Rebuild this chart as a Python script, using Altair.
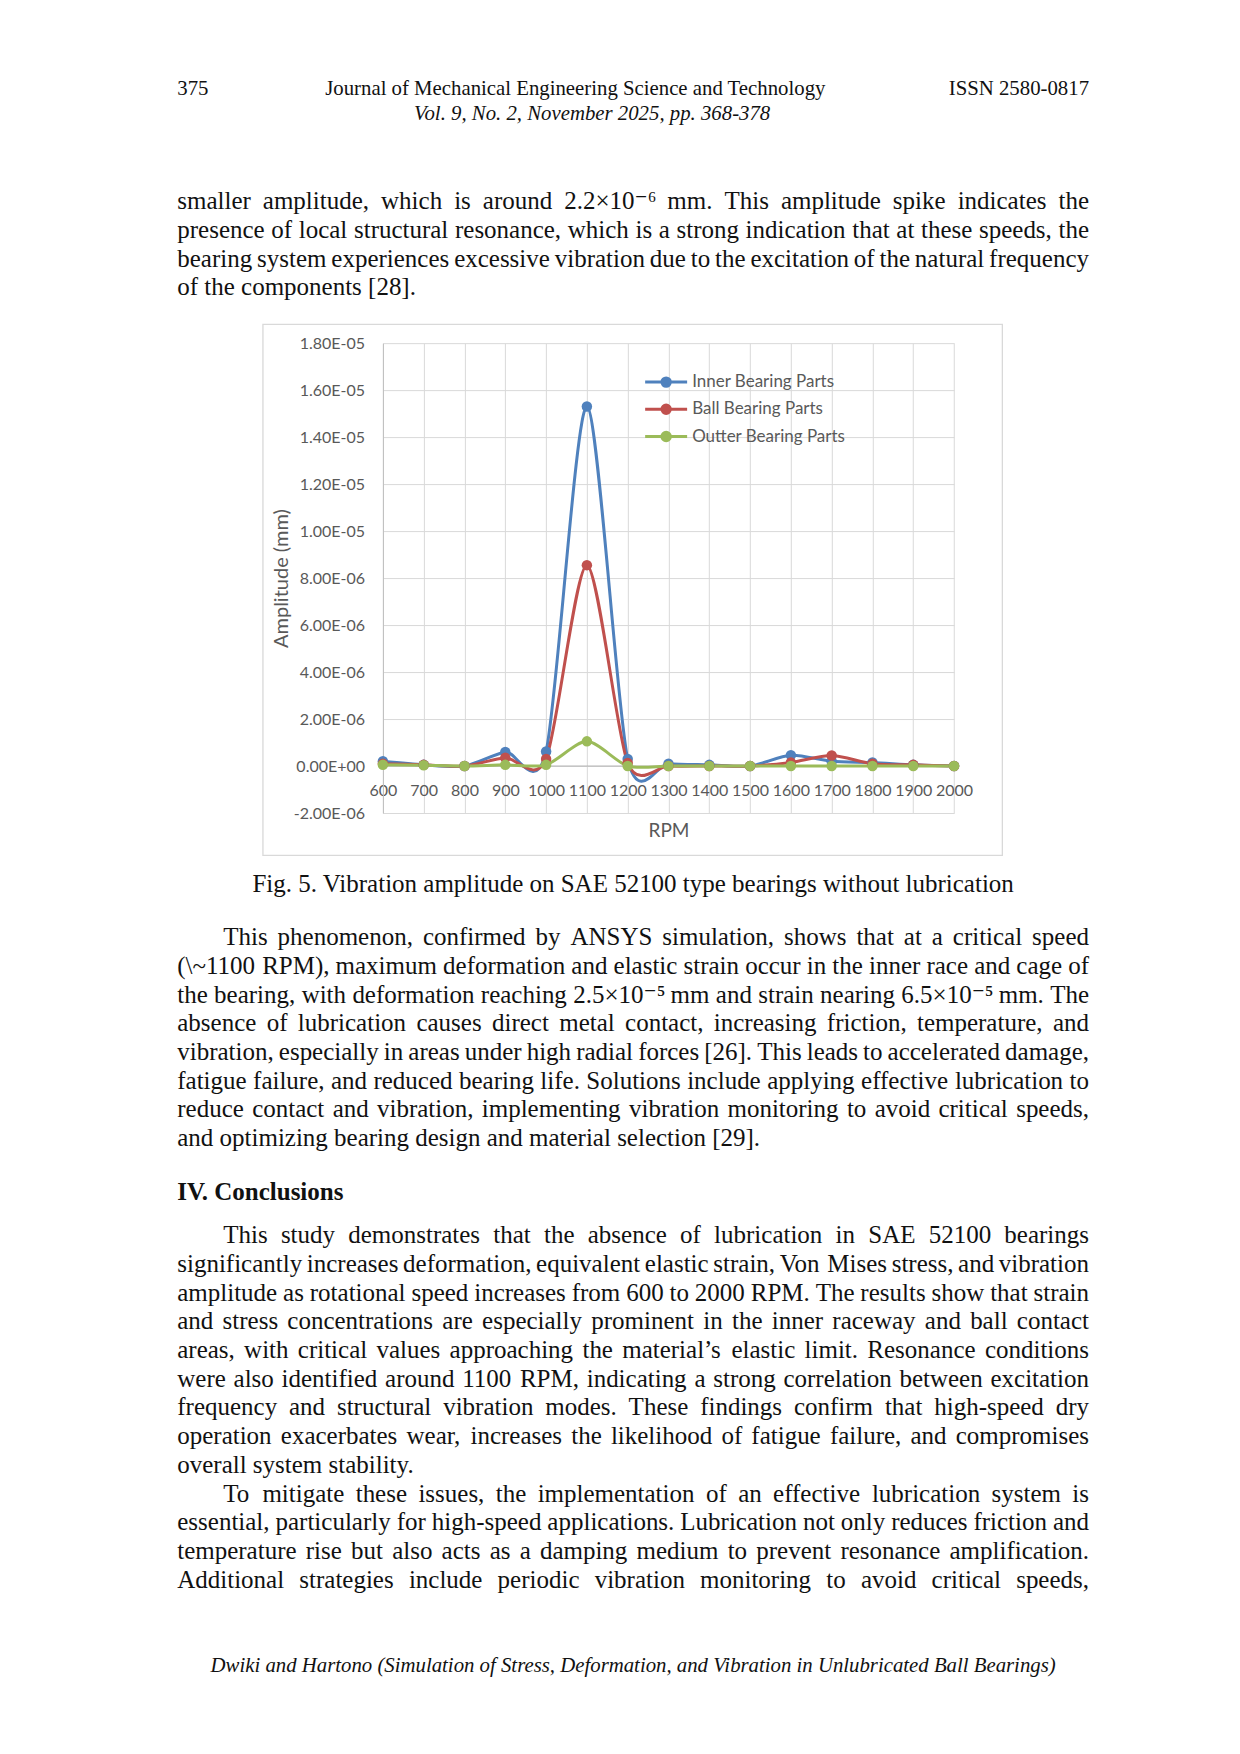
import altair as alt
import pandas as pd

# ---------------- chart data ----------------
rpm = [600, 700, 800, 900, 1000, 1100, 1200, 1300, 1400, 1500, 1600, 1700, 1800, 1900, 2000]
inner = [0.20e-6, 0.05e-6, 0.0, 0.60e-6, 0.62e-6, 15.3e-6, 0.30e-6, 0.10e-6, 0.05e-6, 0.0,
         0.46e-6, 0.20e-6, 0.15e-6, 0.05e-6, 0.0]
ball = [0.10e-6, 0.05e-6, 0.0, 0.35e-6, 0.30e-6, 8.55e-6, 0.13e-6, 0.0, 0.0, 0.0,
        0.15e-6, 0.45e-6, 0.10e-6, 0.05e-6, 0.0]
outer = [0.05e-6, 0.03e-6, 0.0, 0.05e-6, 0.05e-6, 1.05e-6, 0.0, 0.0, 0.0, 0.0,
         0.0, 0.0, 0.0, 0.0, 0.0]
series_names = ["Inner Bearing Parts", "Ball Bearing Parts", "Outter Bearing Parts"]
series_colors = ["#4F81BD", "#C0504D", "#9BBB59"]
y_ticks = [-2e-06, 0.0, 2e-06, 4e-06, 6e-06, 8e-06, 1e-05, 1.2e-05, 1.4e-05, 1.6e-05, 1.8e-05]
y_tick_labels = ["-2.00E-06", "0.00E+00", "2.00E-06", "4.00E-06", "6.00E-06", "8.00E-06",
                 "1.00E-05", "1.20E-05", "1.40E-05", "1.60E-05", "1.80E-05"]
x_title = "RPM"
y_title = "Amplitude (mm)"

# ---------------- page text ----------------
header_left = "375"
header_center = "Journal of Mechanical Engineering Science and Technology"
header_right = "ISSN 2580-0817"
header_sub = "Vol. 9, No. 2, November 2025, pp. 368-378"
para1 = [
    "smaller amplitude, which is around 2.2\u00d710\u207b\u2076 mm. This amplitude spike indicates the",
    "presence of local structural resonance, which is a strong indication that at these speeds, the",
    "bearing system experiences excessive vibration due to the excitation of the natural frequency",
    "of the components [28].",
]
caption = "Fig. 5. Vibration amplitude on SAE 52100 type bearings without lubrication"
para2 = [
    "This phenomenon, confirmed by ANSYS simulation, shows that at a critical speed",
    "(\\~1100 RPM), maximum deformation and elastic strain occur in the inner race and cage of",
    "the bearing, with deformation reaching 2.5\u00d710\u207b\u2075 mm and strain nearing 6.5\u00d710\u207b\u2075 mm. The",
    "absence of lubrication causes direct metal contact, increasing friction, temperature, and",
    "vibration, especially in areas under high radial forces [26]. This leads to accelerated damage,",
    "fatigue failure, and reduced bearing life. Solutions include applying effective lubrication to",
    "reduce contact and vibration, implementing vibration monitoring to avoid critical speeds,",
    "and optimizing bearing design and material selection [29].",
]
heading = "IV. Conclusions"
para3 = [
    "This study demonstrates that the absence of lubrication in SAE 52100 bearings",
    "significantly increases deformation, equivalent elastic strain, Von Mises stress, and vibration",
    "amplitude as rotational speed increases from 600 to 2000 RPM. The results show that strain",
    "and stress concentrations are especially prominent in the inner raceway and ball contact",
    "areas, with critical values approaching the material\u2019s elastic limit. Resonance conditions",
    "were also identified around 1100 RPM, indicating a strong correlation between excitation",
    "frequency and structural vibration modes. These findings confirm that high-speed dry",
    "operation exacerbates wear, increases the likelihood of fatigue failure, and compromises",
    "overall system stability.",
]
para4 = [
    "To mitigate these issues, the implementation of an effective lubrication system is",
    "essential, particularly for high-speed applications. Lubrication not only reduces friction and",
    "temperature rise but also acts as a damping medium to prevent resonance amplification.",
    "Additional strategies include periodic vibration monitoring to avoid critical speeds,",
]
footer = "Dwiki and Hartono (Simulation of Stress, Deformation, and Vibration in Unlubricated Ball Bearings)"

# ---------------- layout (page pixel geometry) ----------------
PX, PY = 382.7, 342.7          # plot-area origin on the page
W, H = 571.3, 470.0            # plot-area size
SERIF = "'Liberation Serif', 'DejaVu Serif', serif"
SANS = "Lato, 'Open Sans', sans-serif"
GREY = "#595959"
INK = "#111111"
BODY_FS = 25.0

def rel_x(v):
    return v - PX

def rel_y(v):
    return v - PY

# Times-style advance widths (per 1000 em) used to justify body lines
_w = {" ": 250, "!": 333, "(": 333, ")": 333, ",": 250, "-": 333, ".": 250, "/": 278,
      ":": 278, ";": 278, "?": 444, "[": 333, "]": 333, "\\": 278, "~": 541,
      "\u00d7": 564, "\u2019": 333, "\u207b": 430, "\u2075": 400, "\u2076": 400}
for ch in "0123456789":
    _w[ch] = 500
for ch, v in zip("ABCDEFGHIJKLMNOPQRSTUVWXYZ",
                 [722, 667, 667, 722, 611, 556, 722, 722, 333, 389, 722, 611, 889,
                  722, 722, 556, 722, 667, 556, 611, 722, 722, 944, 722, 722, 611]):
    _w[ch] = v
for ch, v in zip("abcdefghijklmnopqrstuvwxyz",
                 [444, 500, 444, 500, 444, 333, 500, 500, 278, 278, 500, 278, 778,
                  500, 500, 500, 500, 333, 389, 278, 500, 500, 722, 500, 500, 444]):
    _w[ch] = v

def text_width(s, fs):
    return sum(_w.get(c, 500) for c in s) * fs / 1000.0

LEFT, INDENT, RIGHT = 177.0, 223.0, 1089.0
LH = 28.72

rows = []  # (style, text, x, y)

def add_line(text, x0, y, justify):
    if not justify:
        rows.append(("body", text, x0, y))
        return
    words = text.split(" ")
    widths = [text_width(wd, BODY_FS) for wd in words]
    gap = (RIGHT - x0 - sum(widths)) / (len(words) - 1)
    x = x0
    for wd, ww in zip(words, widths):
        rows.append(("body", wd, x, y))
        x += ww + gap

rows.append(("hdr_l", header_left, LEFT, 94.6))
rows.append(("hdr_l", header_center, 325.0, 94.6))
rows.append(("hdr_r", header_right, RIGHT, 94.6))
rows.append(("hdr_i", header_sub, 592.0, 120.0))
for i, t in enumerate(para1):
    add_line(t, LEFT, 208.7 + i * LH, i < len(para1) - 1)
rows.append(("cap", caption, 633.0, 892.0))
for i, t in enumerate(para2):
    add_line(t, INDENT if i == 0 else LEFT, 944.8 + i * LH, i < len(para2) - 1)
rows.append(("head", heading, LEFT, 1199.5))
for i, t in enumerate(para3):
    add_line(t, INDENT if i == 0 else LEFT, 1243.0 + i * LH, i < len(para3) - 1)
for j, t in enumerate(para4):
    add_line(t, INDENT if j == 0 else LEFT, 1243.0 + (len(para3) + j) * LH, True)
rows.append(("foot", footer, 633.0, 1672.0))

text_df = pd.DataFrame(
    [{"style": s, "line": t, "px": rel_x(x), "py": rel_y(y)} for s, t, x, y in rows]
)

# ---------------- chart data frame ----------------
records = []
for name, vals in zip(series_names, [inner, ball, outer]):
    for r, v in zip(rpm, vals):
        records.append({"rpm": r, "amp": v, "series": name})
df = pd.DataFrame(records)

label_expr = "[" + ",".join("'" + s + "'" for s in y_tick_labels) + "][round((datum.value + 2e-6) / 2e-6)]"

x_enc = alt.X(
    "rpm:Q",
    scale=alt.Scale(domain=[rpm[0], rpm[-1]], nice=False, zero=False),
    axis=alt.Axis(
        values=rpm, format="d", title=x_title,
        domain=False, ticks=False, tickSize=0,
        grid=True, gridColor="#d9d9d9", gridWidth=1,
        labelFont=SANS, labelFontSize=16, labelColor=GREY,
        labelPadding=-22.7, labelBaseline="middle", labelFlush=False, labelOverlap=False,
        titleFont=SANS, titleFontSize=19, titleColor=GREY, titleFontWeight="normal",
        titleY=17.3, titleBaseline="middle",
    ),
)
y_enc = alt.Y(
    "amp:Q",
    scale=alt.Scale(domain=[y_ticks[0], y_ticks[-1]], nice=False, zero=False),
    axis=alt.Axis(
        values=y_ticks, labelExpr=label_expr, title=y_title,
        domain=True, domainColor="#bfbfbf", domainWidth=1,
        ticks=False, tickSize=0,
        grid=True, gridColor="#d9d9d9", gridWidth=1,
        labelFont=SANS, labelFontSize=16, labelColor=GREY,
        labelPadding=18.4, labelBaseline="middle", labelFlush=False, labelOverlap=False,
        titleFont=SANS, titleFontSize=20, titleColor=GREY, titleFontWeight="normal",
        titleX=-101, titleY=H / 2, titleAngle=270, titleBaseline="middle", titleAlign="center",
    ),
)

legend_symbol = "M-2.5,0L2.5,0M-0.5,0A0.5,0.5,0,1,1,0.5,0A0.5,0.5,0,1,1,-0.5,0Z"
legend = alt.Legend(
    title=None, orient="none", legendX=273.3, legendY=29.0, padding=0,
    symbolType=legend_symbol, symbolSize=282, symbolStrokeWidth=3,
    labelFont=SANS, labelFontSize=17, labelColor=GREY, labelOffset=16,
    rowPadding=5.2,
)
color_scale = alt.Scale(domain=series_names, range=series_colors)

base = alt.Chart(df)
lines = base.mark_line(strokeWidth=3, interpolate="cardinal", tension=0.2).encode(
    x=x_enc, y=y_enc,
    color=alt.Color("series:N", scale=color_scale, sort=series_names, legend=legend),
    order=alt.Order("rpm:Q"),
)
points = base.mark_circle(size=110, opacity=1).encode(
    x="rpm:Q", y="amp:Q",
    color=alt.Color("series:N", scale=color_scale, legend=legend),
)
zero_rule = alt.Chart(pd.DataFrame({"amp": [0.0]})).mark_rule(color="#b3b3b3", strokeWidth=1).encode(
    y="amp:Q"
)

# page extent (invisible) and chart-area frame
page_rect = alt.Chart(pd.DataFrame({"k": [0]})).mark_rect(fill="white", opacity=0).encode(
    x=alt.value(rel_x(8)), x2=alt.value(rel_x(1232)),
    y=alt.value(rel_y(8)), y2=alt.value(rel_y(1746)),
)
frame = alt.Chart(pd.DataFrame({"k": [0]})).mark_rect(
    fillOpacity=0, stroke="#d9d9d9", strokeWidth=1.3
).encode(
    x=alt.value(rel_x(262.7)), x2=alt.value(rel_x(1002.3)),
    y=alt.value(rel_y(324.0)), y2=alt.value(rel_y(855.0)),
)

def text_layer(style, **kw):
    return alt.Chart(text_df).transform_filter(alt.datum.style == style).mark_text(**kw).encode(
        x=alt.X("px:Q", scale=None),
        y=alt.Y("py:Q", scale=None),
        text="line:N",
    )

texts = [
    text_layer("hdr_l", font=SERIF, fontSize=20.8, align="left", baseline="alphabetic", color=INK),
    text_layer("hdr_r", font=SERIF, fontSize=20.8, align="right", baseline="alphabetic", color=INK),
    text_layer("hdr_i", font=SERIF, fontSize=20.8, fontStyle="italic", align="center", baseline="alphabetic", color=INK),
    text_layer("body", font=SERIF, fontSize=BODY_FS, align="left", baseline="alphabetic", color=INK),
    text_layer("cap", font=SERIF, fontSize=25, align="center", baseline="alphabetic", color=INK),
    text_layer("head", font=SERIF, fontSize=25, fontWeight="bold", align="left", baseline="alphabetic", color=INK),
    text_layer("foot", font=SERIF, fontSize=20.8, fontStyle="italic", align="center", baseline="alphabetic", color=INK),
]

chart = alt.layer(page_rect, frame, zero_rule, lines, points, *texts).properties(
    width=W, height=H, padding=0, background="white"
).configure_view(strokeWidth=0)

chart.save("out.html", embed_options={"renderer": "svg", "actions": False})
